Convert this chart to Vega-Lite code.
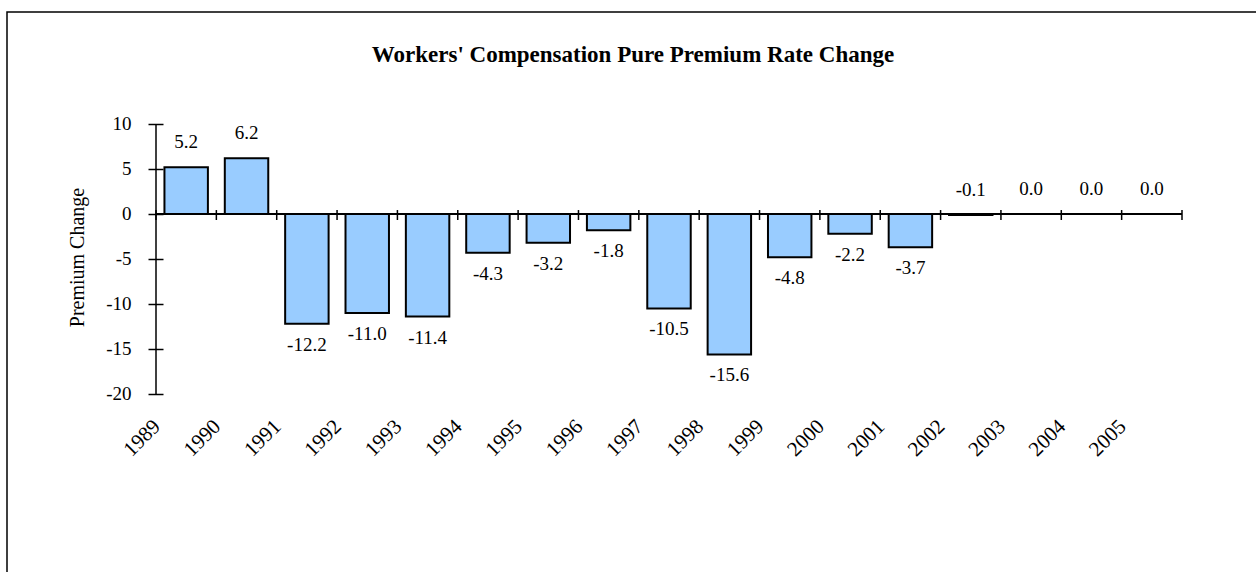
{
  "$schema": "https://vega.github.io/schema/vega-lite/v6.json",
  "width": 1252,
  "height": 563,
  "autosize": "none",
  "padding": {"left": 7, "top": 12, "right": -3, "bottom": -3},
  "background": "white",
  "config": {
    "view": {"stroke": "black", "strokeWidth": 1.5},
    "font": "Liberation Serif",
    "locale": {"number": {"decimal": ".", "thousands": ",", "grouping": [3], "currency": ["$", ""], "minus": "-"}}
  },
  "title": {
    "text": "Workers' Compensation Pure Premium Rate Change",
    "font": "Liberation Serif",
    "fontSize": 23,
    "fontWeight": "bold",
    "color": "black",
    "anchor": "middle",
    "frame": "group",
    "offset": -55
  },
  "data": {
    "values": [
      {"year": "1989", "value": 5.2},
      {"year": "1990", "value": 6.2},
      {"year": "1991", "value": -12.2},
      {"year": "1992", "value": -11.0},
      {"year": "1993", "value": -11.4},
      {"year": "1994", "value": -4.3},
      {"year": "1995", "value": -3.2},
      {"year": "1996", "value": -1.8},
      {"year": "1997", "value": -10.5},
      {"year": "1998", "value": -15.6},
      {"year": "1999", "value": -4.8},
      {"year": "2000", "value": -2.2},
      {"year": "2001", "value": -3.7},
      {"year": "2002", "value": -0.1},
      {"year": "2003", "value": 0.0},
      {"year": "2004", "value": 0.0},
      {"year": "2005", "value": 0.0}
    ]
  },
  "layer": [
    {
      "mark": {"type": "bar", "fill": "#99CCFF", "stroke": "black", "strokeWidth": 2, "width": {"band": 0.72}},
      "encoding": {
        "x": {
          "field": "year",
          "type": "nominal",
          "scale": {"paddingInner": 0, "paddingOuter": 0, "range": [149, 1175], "round": false},
          "axis": {
            "title": null,
            "labelAngle": -45,
            "labelAlign": "right",
            "labelBaseline": "middle",
            "labelFont": "Liberation Serif",
            "labelFontSize": 21,
            "labelColor": "black",
            "labelOffset": -29,
            "labelPadding": 4,
            "labelOverlap": false,
            "labelBound": false,
            "labelFlush": false,
            "offset": -156,
            "ticks": false,
            "domain": false,
            "grid": false
          }
        },
        "y": {
          "field": "value",
          "type": "quantitative",
          "scale": {"domain": [-40.111, 22.444], "nice": false, "zero": false},
          "axis": {
            "title": "Premium Change",
            "titleFont": "Liberation Serif",
            "titleFontSize": 20,
            "titleFontWeight": "normal",
            "titleColor": "black",
            "titleAngle": -90,
            "titleAlign": "center",
            "titleBaseline": "alphabetic",
            "titleX": -80,
            "titleY": 245,
            "values": [-20, -15, -10, -5, 0, 5, 10],
            "labelFont": "Liberation Serif",
            "labelFontSize": 19,
            "labelColor": "black",
            "labelPadding": 17,
            "tickSize": 15,
            "tickWidth": 1.5,
            "tickColor": "black",
            "offset": -156,
            "domain": false,
            "grid": false
          }
        }
      }
    },
    {
      "mark": {"type": "bar", "color": "black", "width": {"band": 1}},
      "encoding": {
        "x": {"field": "year", "type": "nominal"},
        "y": {"datum": -0.11},
        "y2": {"datum": 0.11}
      }
    },
    {
      "mark": {"type": "rule", "color": "black", "strokeWidth": 1.5},
      "encoding": {
        "x": {"field": "year", "type": "nominal", "bandPosition": 0},
        "y": {"datum": -0.67},
        "y2": {"datum": 0.44}
      }
    },
    {
      "data": {"values": [{"end": "2005", "start": "1989"}]},
      "mark": {"type": "rule", "color": "black", "strokeWidth": 1.5},
      "encoding": {
        "x": {"field": "end", "type": "nominal", "bandPosition": 1},
        "y": {"datum": -0.67},
        "y2": {"datum": 0.44}
      }
    },
    {
      "data": {"values": [{"end": "2005", "start": "1989"}]},
      "mark": {"type": "rule", "color": "black", "strokeWidth": 1.5},
      "encoding": {
        "x": {"field": "start", "type": "nominal", "bandPosition": 0},
        "y": {"datum": -20},
        "y2": {"datum": 10}
      }
    },
    {
      "transform": [{"filter": "datum.value > -1"}],
      "mark": {"type": "text", "font": "Liberation Serif", "fontSize": 19, "color": "black", "baseline": "alphabetic", "align": "center", "dy": -19},
      "encoding": {
        "x": {"field": "year", "type": "nominal"},
        "y": {"field": "value", "type": "quantitative"},
        "text": {"field": "value", "type": "quantitative", "format": ".1f"}
      }
    },
    {
      "transform": [{"filter": "datum.value <= -1"}],
      "mark": {"type": "text", "font": "Liberation Serif", "fontSize": 19, "color": "black", "baseline": "alphabetic", "align": "center", "dy": 27},
      "encoding": {
        "x": {"field": "year", "type": "nominal"},
        "y": {"field": "value", "type": "quantitative"},
        "text": {"field": "value", "type": "quantitative", "format": ".1f"}
      }
    }
  ]
}
